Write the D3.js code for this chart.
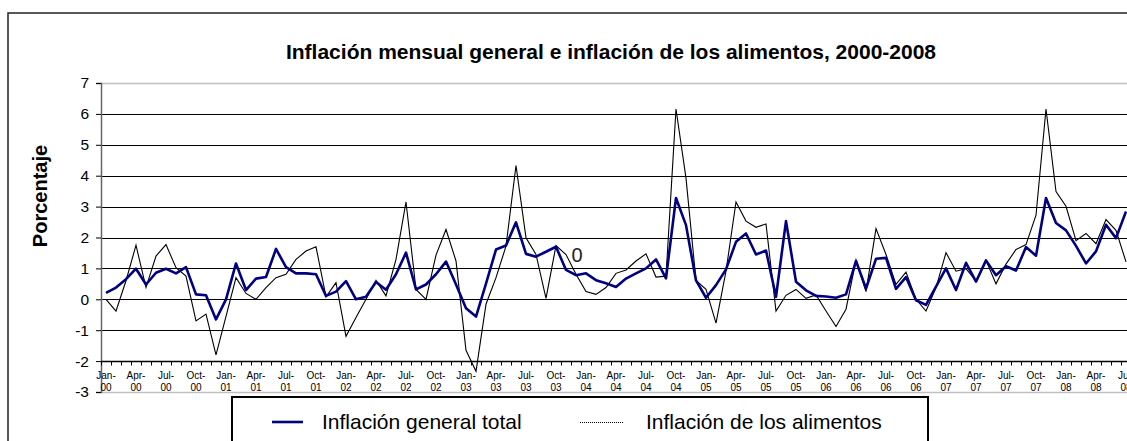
<!DOCTYPE html>
<html>
<head>
<meta charset="utf-8">
<script src="https://cdn.jsdelivr.net/npm/d3@7"></script>
<style>
  body { margin: 0; background: #fff; }
  svg { display: block; font-family: "Liberation Sans", Arial, sans-serif; }
</style>
</head>
<body>
<svg id="chart"></svg>
<script>
var years = ["00", "01", "02", "03", "04", "05", "06", "07", "08"];
var monthNames = ["Jan", "Feb", "Mar", "Apr", "May", "Jun", "Jul", "Aug", "Sep", "Oct", "Nov", "Dec"];

var general = [0.21, 0.38, 0.65, 0.99, 0.48, 0.86, 0.99, 0.84, 1.04, 0.16, 0.13, -0.65,
    0.0, 1.16, 0.30, 0.67, 0.72, 1.63, 1.04, 0.84, 0.84, 0.81, 0.11, 0.25,
    0.59, 0.0, 0.08, 0.56, 0.31, 0.81, 1.51, 0.32, 0.48, 0.81, 1.22, 0.48,
    -0.29, -0.56, 0.51, 1.61, 1.74, 2.49, 1.47, 1.38, 1.54, 1.70, 0.95, 0.78,
    0.84, 0.62, 0.52, 0.40, 0.67, 0.84, 1.00, 1.29, 0.68, 3.28, 2.40, 0.61,
    0.05, 0.46, 0.97, 1.86, 2.13, 1.45, 1.58, 0.08, 2.53, 0.57, 0.29, 0.11,
    0.09, 0.05, 0.16, 1.24, 0.35, 1.31, 1.34, 0.34, 0.72, -0.03, -0.18, 0.41,
    1.00, 0.30, 1.18, 0.57, 1.26, 0.78, 1.07, 0.93, 1.69, 1.41, 3.28, 2.47,
    2.23, 1.73, 1.16, 1.55, 2.41, 1.98, 2.84];

var food = [0.0, -0.38, 0.60, 1.75, 0.38, 1.40, 1.77, 1.02, 0.75, -0.70, -0.48, -1.80,
    -0.55, 0.70, 0.19, 0.0, 0.38, 0.70, 0.81, 1.29, 1.56, 1.70, 0.08, 0.54,
    -1.20, -0.59, 0.0, 0.61, 0.11, 1.29, 3.15, 0.32, 0.0, 1.43, 2.26, 1.24,
    -1.65, -2.33, -0.16, 0.70, 1.72, 4.33, 1.99, 1.45, 0.03, 1.74, 1.45, 0.81,
    0.25, 0.16, 0.38, 0.84, 0.95, 1.24, 1.47, 0.72, 0.75, 6.16, 3.92, 0.61,
    0.32, -0.77, 0.91, 3.15, 2.53, 2.33, 2.44, -0.38, 0.13, 0.32, 0.03, 0.14,
    -0.38, -0.88, -0.32, 1.27, 0.25, 2.29, 1.45, 0.48, 0.88, 0.0, -0.38, 0.38,
    1.51, 0.91, 0.99, 0.59, 1.26, 0.50, 1.14, 1.61, 1.77, 2.72, 6.16, 3.49,
    3.01, 1.90, 2.13, 1.80, 2.58, 2.23, 1.21];

var yTicks = [-3, -2, -1, 0, 1, 2, 3, 4, 5, 6, 7];
var gridValues = [-1, 0, 1, 2, 3, 4, 5, 6];
var seriesNames = ["Inflación general total", "Inflación de los alimentos"];
var title = "Inflación mensual general e inflación de los alimentos, 2000-2008";
var yTitle = "Porcentaje";

var categories = [];
years.forEach(function(y) {
    monthNames.forEach(function(m) {
        if (categories.length < general.length) categories.push(m + "-" + y);
    });
});

var width = 1127, height = 441;
var plotLeft = 101, plotTop = 83, plotBottom = 392;

var svg = d3.select("#chart")
    .attr("width", width)
    .attr("height", height);

var x = d3.scaleBand()
    .domain(categories)
    .range([plotLeft, plotLeft + 10 * categories.length]);
var y = d3.scaleLinear()
    .domain([-3, 7])
    .range([plotBottom, plotTop]);
var plotRight = x.range()[1];
var cx = function(c) { return x(c) + x.bandwidth() / 2; };

// chart area border, runs past the right and bottom edge like the source
svg.append("rect")
    .attr("x", 8).attr("y", 13)
    .attr("width", 1300).attr("height", 500)
    .attr("fill", "#fff")
    .attr("stroke", "#222")
    .attr("stroke-width", 1.5);

svg.append("text")
    .attr("x", 611).attr("y", 59)
    .attr("text-anchor", "middle")
    .attr("font-weight", "bold")
    .attr("font-size", 21)
    .text(title);

svg.append("text")
    .attr("transform", "translate(47,196) rotate(-90)")
    .attr("text-anchor", "middle")
    .attr("font-weight", "bold")
    .attr("font-size", 20)
    .text(yTitle);

// plot area border (top / bottom)
svg.selectAll("line.border")
    .data([7, -3])
    .enter().append("line")
        .attr("x1", plotLeft).attr("x2", plotRight)
        .attr("y1", function(d) { return y(d) + 0.5; })
        .attr("y2", function(d) { return y(d) + 0.5; })
        .attr("stroke", "#c0c0c0")
        .attr("stroke-width", 1.5);

svg.selectAll("line.grid")
    .data(gridValues)
    .enter().append("line")
        .attr("x1", plotLeft).attr("x2", plotRight)
        .attr("y1", function(d) { return Math.round(y(d)) + 0.5; })
        .attr("y2", function(d) { return Math.round(y(d)) + 0.5; })
        .attr("stroke", "#000")
        .attr("stroke-width", 1);

// y axis
var yAxis = svg.append("g")
    .attr("transform", "translate(" + plotLeft + ",0)")
    .call(d3.axisLeft(y).tickValues(yTicks).tickSize(5).tickPadding(7).tickFormat(d3.format("d")));
yAxis.select(".domain").attr("stroke", "#666").attr("stroke-width", 1.5);
yAxis.selectAll(".tick line").attr("stroke", "#000");
yAxis.selectAll(".tick text")
    .attr("font-family", "Liberation Sans, Arial, sans-serif")
    .attr("font-size", 15.5)
    .attr("fill", "#000")
    .text(function(d) { return d < 0 ? "-" + Math.abs(d) : d; });

// category axis crossing at -2
var xAxisY = Math.round(y(-2)) + 0.5;
svg.append("line")
    .attr("x1", plotLeft).attr("x2", plotRight)
    .attr("y1", xAxisY).attr("y2", xAxisY)
    .attr("stroke", "#000").attr("stroke-width", 1.5);
svg.selectAll("line.xtick")
    .data(categories)
    .enter().append("line")
        .attr("x1", function(d) { return x(d) + 0.5; })
        .attr("x2", function(d) { return x(d) + 0.5; })
        .attr("y1", xAxisY).attr("y2", xAxisY + 4)
        .attr("stroke", "#000");

var labelled = categories.filter(function(d, i) { return i % 3 === 0; });
var xLabels = svg.selectAll("text.xlab")
    .data(labelled)
    .enter().append("text")
        .attr("text-anchor", "middle")
        .attr("font-size", 10)
        .attr("fill", "#000");
xLabels.append("tspan")
    .attr("x", cx).attr("y", 379)
    .text(function(d) { return d.split("-")[0] + "-"; });
xLabels.append("tspan")
    .attr("x", cx).attr("y", 391)
    .text(function(d) { return d.split("-")[1]; });

var line = function(values) {
    return d3.line()
        .x(function(d, i) { return cx(categories[i]); })
        .y(function(d) { return y(d); })(values);
};

svg.append("path")
    .attr("d", line(food))
    .attr("fill", "none")
    .attr("stroke", "#000")
    .attr("stroke-width", 1.1);

svg.append("path")
    .attr("d", line(general))
    .attr("fill", "none")
    .attr("stroke", "#000080")
    .attr("stroke-width", 2.6)
    .attr("stroke-linejoin", "round");

// stray data label
svg.append("text")
    .attr("x", cx(categories[46]) + 11)
    .attr("y", 262)
    .attr("text-anchor", "middle")
    .attr("font-size", 20)
    .attr("fill", "#222")
    .text("0");

// legend
var legend = svg.append("g");
legend.append("rect")
    .attr("x", 232).attr("y", 397)
    .attr("width", 696).attr("height", 80)
    .attr("fill", "#fff")
    .attr("stroke", "#000")
    .attr("stroke-width", 2);
legend.append("line")
    .attr("x1", 272).attr("x2", 303)
    .attr("y1", 422).attr("y2", 422)
    .attr("stroke", "#000080").attr("stroke-width", 2.6);
legend.append("line")
    .attr("x1", 580).attr("x2", 623)
    .attr("y1", 422.5).attr("y2", 422.5)
    .attr("stroke", "#000").attr("stroke-width", 1)
    .attr("stroke-dasharray", "1,1");
legend.selectAll("text.leg")
    .data(seriesNames)
    .enter().append("text")
        .attr("x", function(d, i) { return i === 0 ? 322 : 646; })
        .attr("y", 429)
        .attr("font-size", 21)
        .attr("fill", "#000")
        .text(function(d) { return d; });
</script>
</body>
</html>
